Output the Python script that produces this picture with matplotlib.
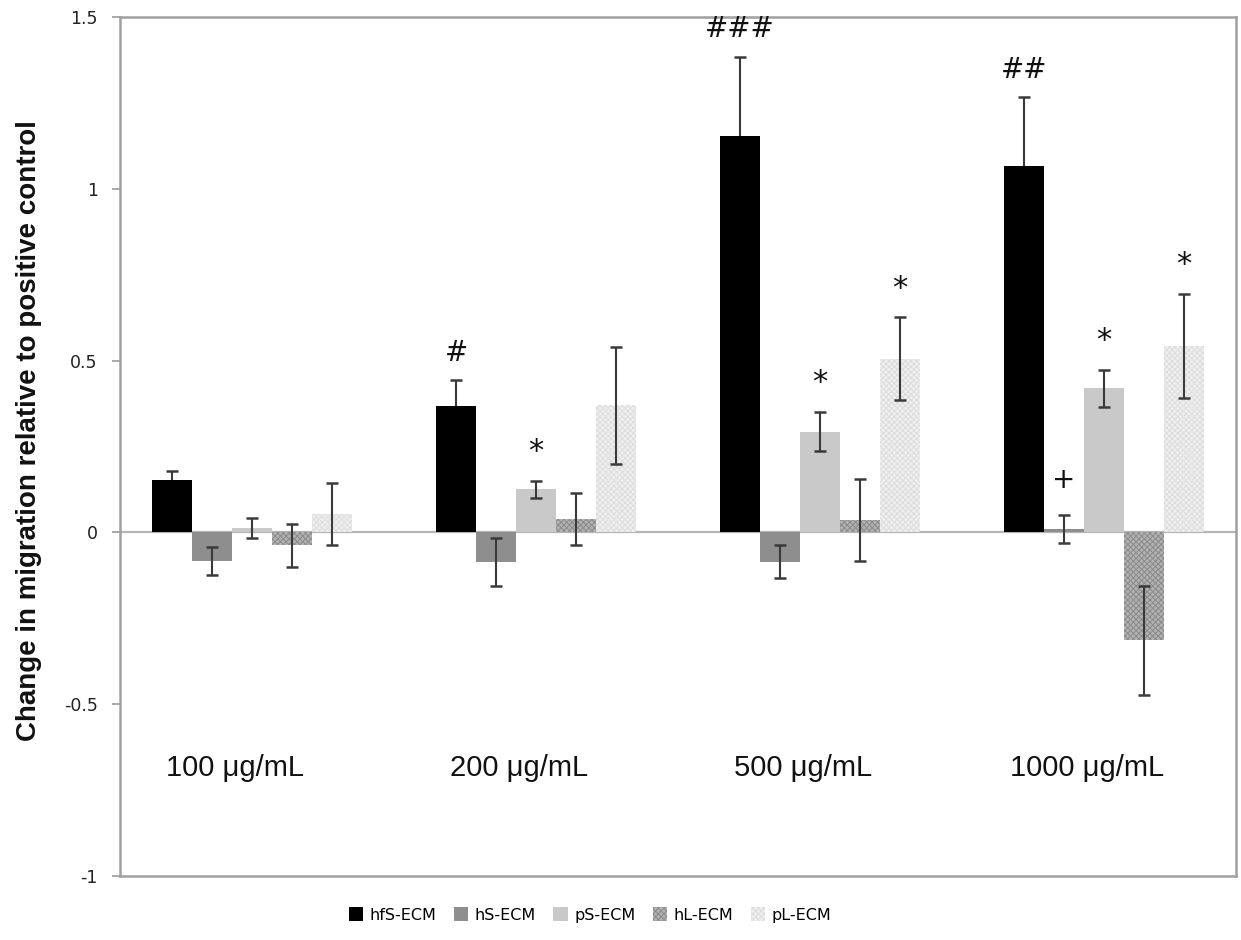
import numpy as np
import matplotlib
matplotlib.use("Agg")
import matplotlib.pyplot as plt
from matplotlib.patches import Patch

categories = ["100 \u03bcg/mL", "200 \u03bcg/mL", "500 \u03bcg/mL", "1000 \u03bcg/mL"]
series_names = ["hfS-ECM", "hS-ECM", "pS-ECM", "hL-ECM", "pL-ECM"]

hfS = [0.152, 0.367, 1.154, 1.066]
hS = [-0.083, -0.087, -0.085, 0.011]
pS = [0.013, 0.125, 0.293, 0.419]
hL = [-0.038, 0.038, 0.036, -0.314]
pL = [0.054, 0.370, 0.506, 0.543]

hfS_err = [0.028, 0.076, 0.230, 0.200]
hS_err = [0.040, 0.070, 0.048, 0.041]
pS_err = [0.029, 0.025, 0.057, 0.055]
hL_err = [0.063, 0.076, 0.120, 0.158]
pL_err = [0.090, 0.171, 0.120, 0.151]

hfS_sig = ["", "#", "###", "##"]
hS_sig = ["", "", "", "+"]
pS_sig = ["", "*", "*", "*"]
hL_sig = ["", "", "", ""]
pL_sig = ["", "", "*", "*"]

yticks = [-1, -0.5, 0, 0.5, 1, 1.5]
ytick_labels = ["-1", "-0.5", "0", "0.5", "1", "1.5"]

values = [hfS, hS, pS, hL, pL]
errors = [hfS_err, hS_err, pS_err, hL_err, pL_err]
sigs = [hfS_sig, hS_sig, pS_sig, hL_sig, pL_sig]

plt.rcParams["hatch.linewidth"] = 0.7

facecolors = ["#000000", "#8e8e8e", "#c9c9c9", "#b2b2b2", "#efefef"]
hatches = [None, None, None, "xxxxxx", "xxxxxx"]
hatchcolors = ["#000000", "#8e8e8e", "#c9c9c9", "#8a8a8a", "#dcdcdc"]

fig = plt.figure(figsize=(12.41, 9.40), dpi=100)
ax = fig.add_axes([120 / 1241, 1 - 876 / 940, (1236 - 120) / 1241, (876 - 17) / 940])

x = np.arange(len(categories))
w = 0.1408
for i, (vals, errs, sg) in enumerate(zip(values, errors, sigs)):
    pos = x + (i - 2) * w
    ax.bar(pos, vals, width=w, color=facecolors[i], edgecolor=hatchcolors[i],
           linewidth=0, hatch=hatches[i], zorder=2)
    ax.errorbar(pos, vals, yerr=errs, fmt="none", ecolor="#3a3a3a",
                elinewidth=1.5, capsize=4.5, capthick=1.8,
                zorder=1.5 if i == 0 else 3)
    for p, v, e, s in zip(pos, vals, errs, sg):
        if s:
            top = max(v + e, v)
            if s.startswith("#"):
                ax.text(p, top + 0.08, s, ha="center", va="center",
                        fontsize=20, family="DejaVu Sans", color="#111111")
            elif s == "*":
                ax.text(p, top + 0.085, s, ha="center", va="center",
                        fontsize=22, family="DejaVu Sans", color="#111111")
            else:
                ax.text(p, top + 0.1, s, ha="center", va="center",
                        fontsize=20, family="DejaVu Sans", color="#111111")

ax.axhline(0, color="#b5b5b5", linewidth=1.6, zorder=1)

for xi, c in zip(x, categories):
    ax.text(xi - 0.06, -0.685, c, ha="center", va="center", fontsize=21,
            family="Liberation Sans", color="#111111")

ax.set_xlim(-0.465, 3.465)
ax.set_ylim(-1, 1.5)
ax.set_xticks([])
ax.set_yticks(yticks)
ax.set_yticklabels(ytick_labels, fontsize=12.5, family="DejaVu Sans", color="#222222")
ax.tick_params(axis="y", direction="out", length=6, width=1.2, color="#999999", pad=10)
for sp in ax.spines.values():
    sp.set_color("#a0a0a0")
    sp.set_linewidth(1.8)

fig.text(29 / 1241, 1 - 431 / 940, "Change in migration relative to positive control",
         rotation=90, ha="center", va="center", fontsize=20, fontweight="bold",
         family="Liberation Sans", color="#111111")

handles = [Patch(facecolor=facecolors[i], edgecolor=hatchcolors[i], hatch=hatches[i],
                 linewidth=0) for i in range(5)]
fig.legend(handles, series_names, loc="center", bbox_to_anchor=(590 / 1241, 1 - 915 / 940),
           ncol=5, frameon=False, handlelength=0.9, handleheight=0.9,
           handletextpad=0.4, columnspacing=1.1, prop={"family": "DejaVu Sans", "size": 11.5})

fig.savefig("out.png", dpi=100)
